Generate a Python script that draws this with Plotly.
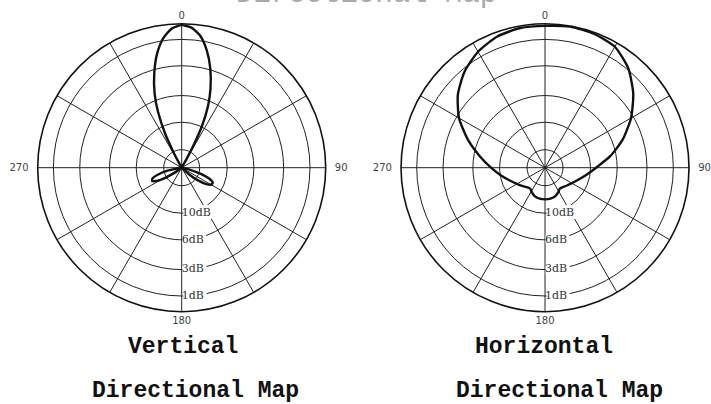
import plotly.graph_objects as go

# ---------------- data ----------------
# Vertical directional pattern (relative amplitude, 1.0 = 0 dB), theta clockwise from top
V_THETA = [0, 4, 8, 12, 16, 20, 23, 26, 28, 29.5, 31, 60, 90,
           100, 104, 108, 112, 116, 120, 124, 128, 132, 136,
           180, 230, 234, 238, 242, 246, 250, 254, 258, 262, 264,
           300, 329, 330.5, 332, 334, 337, 340, 344, 348, 352, 356, 360]
V_R = [0.99, 0.975, 0.925, 0.835, 0.72, 0.585, 0.47, 0.32, 0.17, 0.06, 0.0, 0.0, 0.0,
       0.0, 0.06, 0.14, 0.21, 0.24, 0.235, 0.2, 0.14, 0.07, 0.0,
       0.0, 0.0, 0.06, 0.13, 0.195, 0.225, 0.215, 0.17, 0.1, 0.03, 0.0,
       0.0, 0.0, 0.04, 0.12, 0.26, 0.42, 0.55, 0.69, 0.815, 0.91, 0.97, 0.99]

# Horizontal directional pattern
H_THETA = [0, 10, 20, 30, 40, 50, 60, 70, 80, 90, 100, 110, 120, 130, 140, 145, 150, 160, 170,
           180, 190, 200, 210, 215, 220, 230, 240, 250, 260, 270, 280, 290, 300, 310, 320,
           330, 340, 350, 360]
H_R = [0.985, 0.995, 0.99, 0.97, 0.9, 0.8, 0.69, 0.575, 0.46, 0.355, 0.29, 0.245, 0.215, 0.195,
       0.18, 0.178, 0.19, 0.21, 0.218, 0.22, 0.218, 0.21, 0.19, 0.178, 0.18, 0.2, 0.225, 0.26,
       0.31, 0.375, 0.46, 0.57, 0.69, 0.79, 0.87, 0.93, 0.97, 0.985, 0.985]

# grid rings (amplitude of dB levels) and their labels
RING_VALUES = [0.125, 0.316, 0.501, 0.708, 0.891]
DB_LABEL_R = [0.316, 0.501, 0.708, 0.891]
DB_LABELS = ["10dB", "6dB", "3dB", "1dB"]

SPOKES = list(range(0, 360, 30))
NB = "\u00a0"
SPOKE_TEXT = ["0" if a == 0 else NB * 2 + "90" if a == 90 else "180" if a == 180
              else "270" + NB * 2 if a == 270 else "" for a in SPOKES]

PANEL_TITLES = ["Vertical", "Horizontal"]
SUB_TITLE = "Directional Map"

# ---------------- figure ----------------
fig = go.Figure()

shadow = ", ".join(f"{dx}px {dy}px 0 #fff" for dx in (0, 1, 2, 3) for dy in (-3, -2, -1, 0, 1, 2, 3))

for sub, th, rr in (("polar", V_THETA, V_R), ("polar2", H_THETA, H_R)):
    fig.add_trace(go.Scatterpolar(
        theta=th, r=rr, mode="lines", subplot=sub,
        line=dict(color="#111", width=2.4, shape="spline", smoothing=0.6),
        hoverinfo="skip"))
    fig.add_trace(go.Scatterpolar(
        theta=[180] * len(DB_LABEL_R), r=DB_LABEL_R, text=DB_LABELS,
        mode="text", textposition="middle right", subplot=sub,
        textfont=dict(family="DejaVu Serif", size=11, color="#333", shadow=shadow),
        hoverinfo="skip"))

def polar_layout(xdom):
    return dict(
        domain=dict(x=xdom, y=[0.2285, 0.9413]),
        bgcolor="white",
        angularaxis=dict(rotation=90, direction="clockwise",
                         tickvals=SPOKES, ticktext=SPOKE_TEXT, ticks="",
                         showgrid=True, gridcolor="#222", gridwidth=1.2,
                         showline=True, linecolor="#111", linewidth=1.6,
                         tickfont=dict(family="DejaVu Sans", size=10, color="#444")),
        radialaxis=dict(range=[0, 1], tickvals=RING_VALUES, showticklabels=False,
                        ticks="", showline=False, showgrid=True,
                        gridcolor="#222", gridwidth=1.2),
    )

annots = []
for cx, title, cx2 in ((0.2574, PANEL_TITLES[0], 0.2743), (0.7658, PANEL_TITLES[1], 0.7876)):
    annots.append(dict(x=cx, y=0.142, xref="paper", yref="paper", text=title, showarrow=False,
                       xanchor="center", yanchor="middle",
                       font=dict(family="Liberation Mono", size=23, color="#111", weight="bold")))
    annots.append(dict(x=cx2, y=0.031, xref="paper", yref="paper", text=SUB_TITLE, showarrow=False,
                       xanchor="center", yanchor="middle",
                       font=dict(family="Liberation Mono", size=23, color="#111", weight="bold")))
# clipped heading at the very top
annots.append(dict(x=0.516, y=1.0135, xref="paper", yref="paper", text=SUB_TITLE, showarrow=False,
                   xanchor="center", yanchor="middle",
                   font=dict(family="Liberation Mono", size=29, color="#aaa")))

fig.update_layout(
    width=711, height=404, autosize=False,
    margin=dict(l=0, r=0, t=0, b=0),
    paper_bgcolor="white", plot_bgcolor="white",
    showlegend=False,
    polar=polar_layout([0.0530, 0.4581]),
    polar2=polar_layout([0.5640, 0.9691]),
    annotations=annots,
)

fig.write_html("out.html", config={"displayModeBar": False},
               post_script="document.body.style.margin='0';document.body.style.overflow='hidden';")
